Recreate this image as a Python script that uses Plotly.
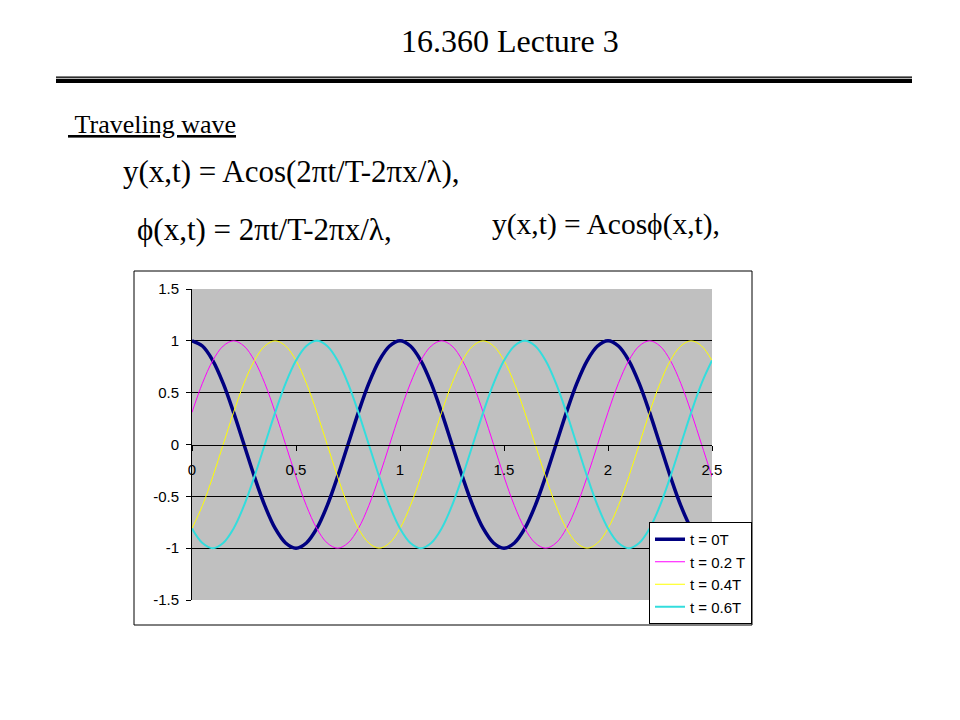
import plotly.graph_objects as go

# ---------------- data ----------------
x_vals = [0, 0.05, 0.1, 0.15, 0.2, 0.25, 0.3, 0.35, 0.4, 0.45,
          0.5, 0.55, 0.6, 0.65, 0.7, 0.75, 0.8, 0.85, 0.9, 0.95,
          1.0, 1.05, 1.1, 1.15, 1.2, 1.25, 1.3, 1.35, 1.4, 1.45,
          1.5, 1.55, 1.6, 1.65, 1.7, 1.75, 1.8, 1.85, 1.9, 1.95,
          2.0, 2.05, 2.1, 2.15, 2.2, 2.25, 2.3, 2.35, 2.4, 2.45, 2.5]

y_t0 = [1, 0.95, 0.81, 0.59, 0.31, 0, -0.31, -0.59, -0.81, -0.95,
        -1, -0.95, -0.81, -0.59, -0.31, 0, 0.31, 0.59, 0.81, 0.95,
        1, 0.95, 0.81, 0.59, 0.31, 0, -0.31, -0.59, -0.81, -0.95,
        -1, -0.95, -0.81, -0.59, -0.31, 0, 0.31, 0.59, 0.81, 0.95,
        1, 0.95, 0.81, 0.59, 0.31, 0, -0.31, -0.59, -0.81, -0.95, -1]

y_t02 = [0.31, 0.59, 0.81, 0.95, 1, 0.95, 0.81, 0.59, 0.31, 0,
         -0.31, -0.59, -0.81, -0.95, -1, -0.95, -0.81, -0.59, -0.31, 0,
         0.31, 0.59, 0.81, 0.95, 1, 0.95, 0.81, 0.59, 0.31, 0,
         -0.31, -0.59, -0.81, -0.95, -1, -0.95, -0.81, -0.59, -0.31, 0,
         0.31, 0.59, 0.81, 0.95, 1, 0.95, 0.81, 0.59, 0.31, 0, -0.31]

y_t04 = [-0.81, -0.59, -0.31, 0, 0.31, 0.59, 0.81, 0.95, 1, 0.95,
         0.81, 0.59, 0.31, 0, -0.31, -0.59, -0.81, -0.95, -1, -0.95,
         -0.81, -0.59, -0.31, 0, 0.31, 0.59, 0.81, 0.95, 1, 0.95,
         0.81, 0.59, 0.31, 0, -0.31, -0.59, -0.81, -0.95, -1, -0.95,
         -0.81, -0.59, -0.31, 0, 0.31, 0.59, 0.81, 0.95, 1, 0.95, 0.81]

y_t06 = [-0.81, -0.95, -1, -0.95, -0.81, -0.59, -0.31, 0, 0.31, 0.59,
         0.81, 0.95, 1, 0.95, 0.81, 0.59, 0.31, 0, -0.31, -0.59,
         -0.81, -0.95, -1, -0.95, -0.81, -0.59, -0.31, 0, 0.31, 0.59,
         0.81, 0.95, 1, 0.95, 0.81, 0.59, 0.31, 0, -0.31, -0.59,
         -0.81, -0.95, -1, -0.95, -0.81, -0.59, -0.31, 0, 0.31, 0.59, 0.81]

series_names = ["t = 0T", "t = 0.2 T", "t = 0.4T", "t = 0.6T"]
x_ticks = [0, 0.5, 1, 1.5, 2, 2.5]
x_tick_text = ["0", "0.5", "1", "1.5", "2", "2.5"]
y_ticks = [-1.5, -1, -0.5, 0, 0.5, 1, 1.5]
y_tick_text = ["-1.5", "-1", "-0.5", "0", "0.5", "1", "1.5"]
grid_vals = [-1, -0.5, 0.5, 1]

PI, LAM, PHI = "\u03c0", "\u03bb", "\u03d5"

title_text = "16.360 Lecture 3"
subtitle_text = "\u00a0Traveling wave"
eq1_text = "y(x,t) = Acos(2" + PI + "t/T-2" + PI + "x/" + LAM + "),"
eq2_text = PHI + "(x,t) = 2" + PI + "t/T-2" + PI + "x/" + LAM + ","
eq3_text = "y(x,t) = Acos" + PHI + "(x,t),"

# ---------------- layout geometry ----------------
# coordinates below are page pixels; the figure sits 8px in from the page corner
OFF = 8
W, H = 960 - OFF, 720 - OFF
PL, PR, PT, PB = 192, 712, 289, 600   # plot area edges (page pixels)
PW, PH = PR - PL, PB - PT


def px(x):
    return (x - PL) / PW


def py(y):
    return (PB - y) / PH


SERIF = "Liberation Serif, Times New Roman, serif"
SANS = "Liberation Sans, Arial, sans-serif"

fig = go.Figure()

styles = [
    dict(color="#000080", width=3.5),
    dict(color="#FF00FF", width=1),
    dict(color="#FFFF00", width=1),
    dict(color="#33DDDD", width=2),
]
for name, ys, st in zip(series_names, [y_t0, y_t02, y_t04, y_t06], styles):
    fig.add_trace(go.Scatter(
        x=x_vals, y=ys, mode="lines", name=name,
        line=dict(color=st["color"], width=st["width"], shape="spline", smoothing=1.0),
        legendgroup=name,
    ))

# invisible overlay axis that only provides the gridlines
fig.add_trace(go.Scatter(x=[x_vals[0]], y=[0], yaxis="y2", mode="markers",
                         marker=dict(opacity=0), showlegend=False, hoverinfo="skip"))

fig.update_layout(
    width=W, height=H,
    margin=dict(l=PL - OFF, r=960 - PR, t=PT - OFF, b=720 - PB, autoexpand=False),
    paper_bgcolor="white",
    plot_bgcolor="#C0C0C0",
    showlegend=True,
    xaxis=dict(
        range=[0, 2.5], tickvals=x_ticks, ticktext=x_tick_text,
        showgrid=False, zeroline=False,
        showline=True, linecolor="black", linewidth=1,
        anchor="free", position=0.5,
        ticks="outside", ticklen=5, tickcolor="black", tickwidth=1,
        ticklabelstandoff=6,
        tickfont=dict(family=SANS, size=15, color="black"),
    ),
    yaxis=dict(
        range=[-1.5, 1.5], tickvals=y_ticks, ticktext=y_tick_text,
        showgrid=False, zeroline=False,
        showline=True, linecolor="black", linewidth=1,
        ticks="outside", ticklen=5, tickcolor="black", tickwidth=1,
        ticklabelstandoff=4,
        tickfont=dict(family=SANS, size=15, color="black"),
    ),
    yaxis2=dict(
        range=[-1.5, 1.5], overlaying="y", tickvals=grid_vals,
        showticklabels=False, ticks="", showgrid=True,
        gridcolor="black", gridwidth=1, zeroline=False, showline=False,
    ),
    legend=dict(
        x=px(752), y=py(522), xanchor="right", yanchor="top",
        bgcolor="white", bordercolor="black", borderwidth=1,
        font=dict(family=SANS, size=15, color="black"),
        tracegroupgap=5, traceorder="normal",
        itemwidth=30,
    ),
)

shapes = [
    # chart outer border
    dict(type="rect", xref="paper", yref="paper",
         x0=px(134), x1=px(752), y0=py(625), y1=py(271),
         line=dict(color="black", width=1), fillcolor="rgba(0,0,0,0)", layer="below"),
    # double rule under the title
    dict(type="rect", xref="paper", yref="paper",
         x0=px(56), x1=px(912), y0=py(83), y1=py(76.5),
         line=dict(width=0), fillcolor="black"),
    dict(type="rect", xref="paper", yref="paper",
         x0=px(56), x1=px(912), y0=py(79), y1=py(77.8),
         line=dict(width=0), fillcolor="#B8B8B8"),
]
fig.update_layout(shapes=shapes)

annos = [
    dict(text=title_text, x=px(510), y=py(41), xanchor="center", yanchor="middle",
         font=dict(family=SERIF, size=32, color="black")),
    dict(text="<u>" + subtitle_text + "</u>", x=px(66), y=py(125), xanchor="left", yanchor="middle",
         font=dict(family=SERIF, size=26, color="black")),
    dict(text=eq1_text, x=px(121), y=py(171), xanchor="left", yanchor="middle",
         font=dict(family=SERIF, size=31, color="black")),
    dict(text=eq2_text, x=px(135), y=py(230), xanchor="left", yanchor="middle",
         font=dict(family=SERIF, size=31, color="black")),
    dict(text=eq3_text, x=px(490), y=py(224), xanchor="left", yanchor="middle",
         font=dict(family=SERIF, size=29.5, color="black")),
]
for a in annos:
    a.update(xref="paper", yref="paper", showarrow=False)
fig.update_layout(annotations=annos)

fig.write_html("out.html")
